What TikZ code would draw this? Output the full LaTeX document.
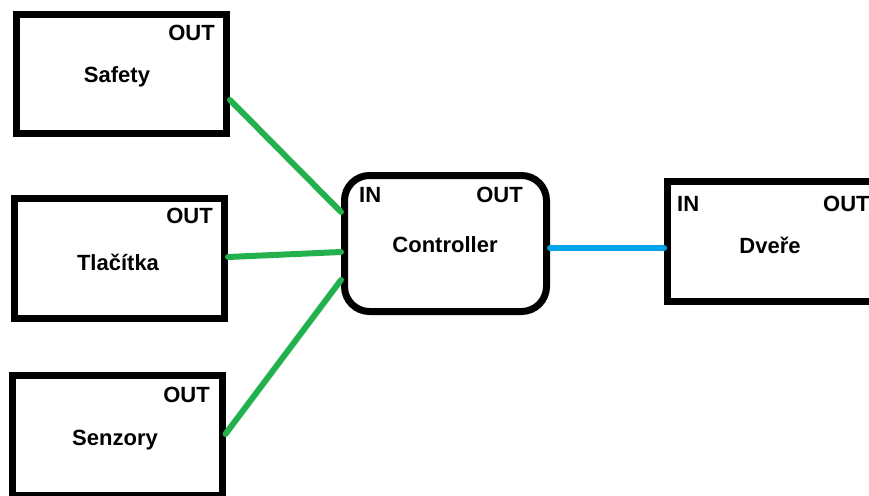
\documentclass[tikz,border=0pt]{standalone}
\usepackage{fontspec}
\setmainfont{Liberation Sans}
\usepackage{tikz}

\definecolor{wiregreen}{RGB}{34,177,76}
\definecolor{wireblue}{RGB}{0,162,232}

\tikzset{
  block/.style={draw, line width=7pt, fill=white, inner sep=0pt, minimum width=210pt, minimum height=120pt},
  porttext/.style={inner sep=0pt, font=\bfseries\fontsize{22}{25}\selectfont},
  blocktext/.style={inner sep=0pt, font=\bfseries\fontsize{22}{25}\selectfont},
  greenwire/.style={wiregreen, line width=6pt, line cap=round},
  bluewire/.style={wireblue, line width=6pt, line cap=round}
}

\begin{document}
\begin{tikzpicture}[x=1pt,y=-1pt]
\useasboundingbox (0,0) rectangle (869,495);
\clip (0,0) rectangle (869,495);
\node[block, minimum height=119pt] (safety) at (121.5,74) {};
\node[block] (tlacitka) at (119.5,258.5) {};
\node[block] (senzory) at (117,435.5) {};
\node[block, rounded corners=25pt, minimum width=202pt, minimum height=136pt] (ctrl) at (445.5,243.5) {};
\node[block] (dvere) at (772.5,241.5) {};

\node[blocktext] (safetyname) at (117,77) {Safety};
\node[blocktext] (tlacitkaname) at (118,262) {Tlačítka};
\node[blocktext] (senzoryname) at (115,440) {Senzory};
\node[blocktext] (ctrlname) at (445,245) {Controller};
\node[blocktext] (dverename) at (770,245) {Dveře};

\node[porttext, anchor=north east] (safetyout) at (215,25) {OUT};
\node[porttext, anchor=north east] (tlacitkaout) at (213,208) {OUT};
\node[porttext, anchor=north east] (senzoryout) at (210,387) {OUT};
\node[porttext, anchor=north west] (ctrlin) at (359,187) {IN};
\node[porttext, anchor=north east] (ctrlout) at (523,187) {OUT};
\node[porttext, anchor=north west] (dverein) at (677,196) {IN};
\node[porttext, anchor=north west] (dvereout) at (823,196) {OUT};

\draw[greenwire] ([yshift=-26pt]safety.east) -- ([yshift=31.5pt]ctrl.west);
\draw[greenwire] ([yshift=1.5pt]tlacitka.east) -- ([yshift=-8.5pt]ctrl.west);
\draw[greenwire] ([yshift=1.5pt]senzory.east) -- ([yshift=-36.5pt]ctrl.west);
\draw[bluewire] ([yshift=-4.5pt]ctrl.east) -- ([yshift=-6.5pt]dvere.west);
\end{tikzpicture}
\end{document}
